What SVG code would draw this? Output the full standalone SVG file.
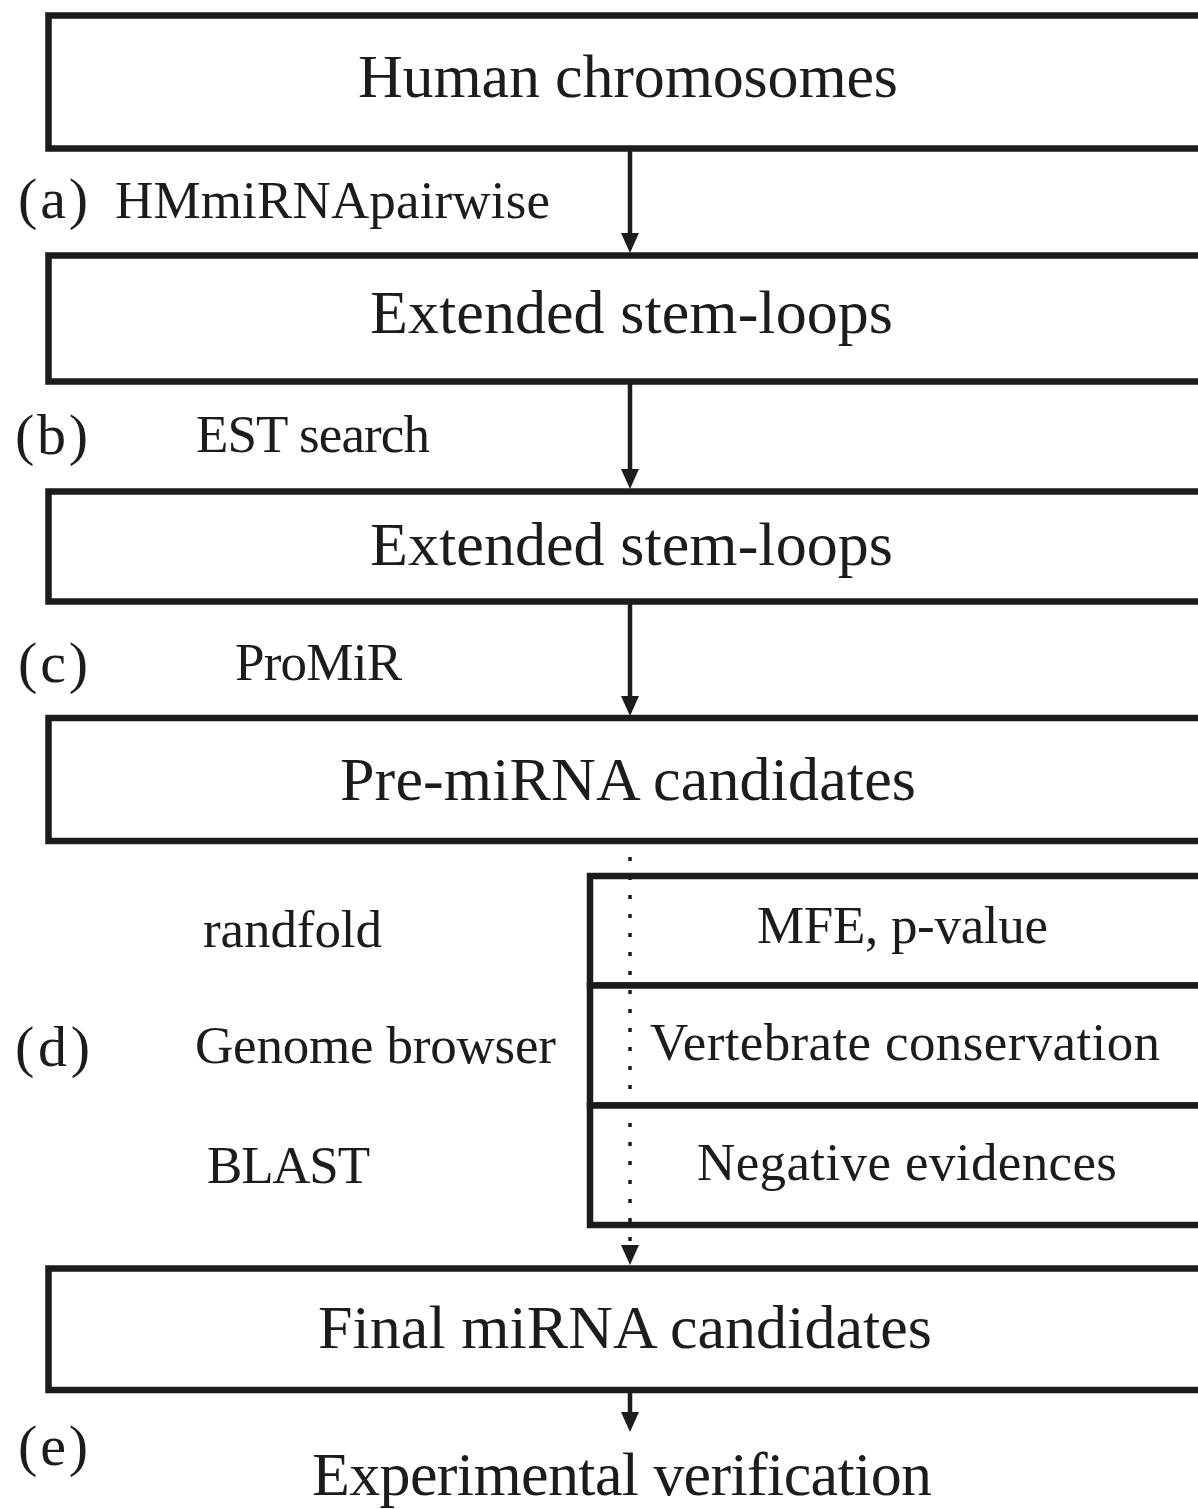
<svg xmlns="http://www.w3.org/2000/svg" width="1198" height="1509" viewBox="0 0 1198 1509">
<defs>
<style>
.box{fill:#fff;stroke:#1c1c1c;stroke-width:6.5}
.t{font-family:"Liberation Serif","Times New Roman",serif;fill:#1c1c1c}
.big{font-size:62px}
.mid{font-size:53px}
.lab{font-size:58px}
.ln{stroke:#1c1c1c;stroke-width:4.5;fill:none}
.dot{stroke:#1c1c1c;stroke-width:3.5;fill:none;stroke-dasharray:4 15}
</style>
<marker id="ah" viewBox="0 0 20 20" refX="10" refY="10" markerWidth="20" markerHeight="20" markerUnits="userSpaceOnUse" orient="auto">
<path d="M0,1 L20,10 L0,19 z" fill="#1c1c1c"/>
</marker>
</defs>
<rect width="1198" height="1509" fill="#fff"/>
<g id="node-human">
<rect class="box" x="48.5" y="15.5" width="1170" height="133"/>
<text class="t big" x="358" y="97" textLength="540">Human chromosomes</text>
</g>
<g id="label-a">
<text class="t lab" x="18" y="218" textLength="70">(a)</text>
<text class="t mid" x="115" y="218" textLength="435">HMmiRNApairwise</text>
</g>
<g id="node-extended1">
<rect class="box" x="48.5" y="255.5" width="1170" height="126"/>
<text class="t big" x="370" y="333" textLength="523">Extended stem-loops</text>
</g>
<g id="label-b">
<text class="t lab" x="15" y="454" textLength="73">(b)</text>
<text class="t mid" x="196" y="452" textLength="234">EST search</text>
</g>
<g id="node-extended2">
<rect class="box" x="48.5" y="491.5" width="1170" height="110"/>
<text class="t big" x="370" y="565" textLength="523">Extended stem-loops</text>
</g>
<g id="label-c">
<text class="t lab" x="18" y="682" textLength="70">(c)</text>
<text class="t mid" x="235" y="680" textLength="167">ProMiR</text>
</g>
<g id="node-premirna">
<rect class="box" x="48.5" y="718" width="1170" height="123"/>
<text class="t big" x="340" y="800" textLength="576">Pre-miRNA candidates</text>
</g>
<g id="label-d">
<text class="t lab" x="15" y="1066" textLength="75">(d)</text>
<text class="t mid" x="203" y="947" textLength="179">randfold</text>
<text class="t mid" x="195" y="1063" textLength="361">Genome browser</text>
<text class="t mid" x="207" y="1183" textLength="163">BLAST</text>
</g>
<g id="node-mfe">
<rect class="box" x="590" y="876" width="628" height="109.5"/>
<text class="t mid" x="757" y="943" textLength="291">MFE, p-value</text>
</g>
<g id="node-conservation">
<rect class="box" x="590" y="985.5" width="628" height="120"/>
<text class="t mid" x="650" y="1060" textLength="510">Vertebrate conservation</text>
</g>
<g id="node-negative">
<rect class="box" x="590" y="1105.5" width="628" height="119.5"/>
<text class="t mid" x="697" y="1180" textLength="420">Negative evidences</text>
</g>
<g id="node-final">
<rect class="box" x="48.5" y="1268.5" width="1170" height="121.5"/>
<text class="t big" x="318" y="1348" textLength="614">Final miRNA candidates</text>
</g>
<g id="label-e">
<text class="t lab" x="18" y="1465" textLength="70">(e)</text>
</g>
<g id="node-experimental">
<text class="t big" x="312" y="1495" textLength="620">Experimental verification</text>
</g>
<g id="connectors">
<line class="ln" x1="630" y1="150" x2="630" y2="243" marker-end="url(#ah)"/>
<line class="ln" x1="630" y1="383" x2="630" y2="479" marker-end="url(#ah)"/>
<line class="ln" x1="630" y1="603" x2="630" y2="706" marker-end="url(#ah)"/>
<line class="dot" x1="630" y1="857" x2="630" y2="1255" marker-end="url(#ah)"/>
<line class="ln" x1="630" y1="1392" x2="630" y2="1422" marker-end="url(#ah)"/>
</g>
</svg>
